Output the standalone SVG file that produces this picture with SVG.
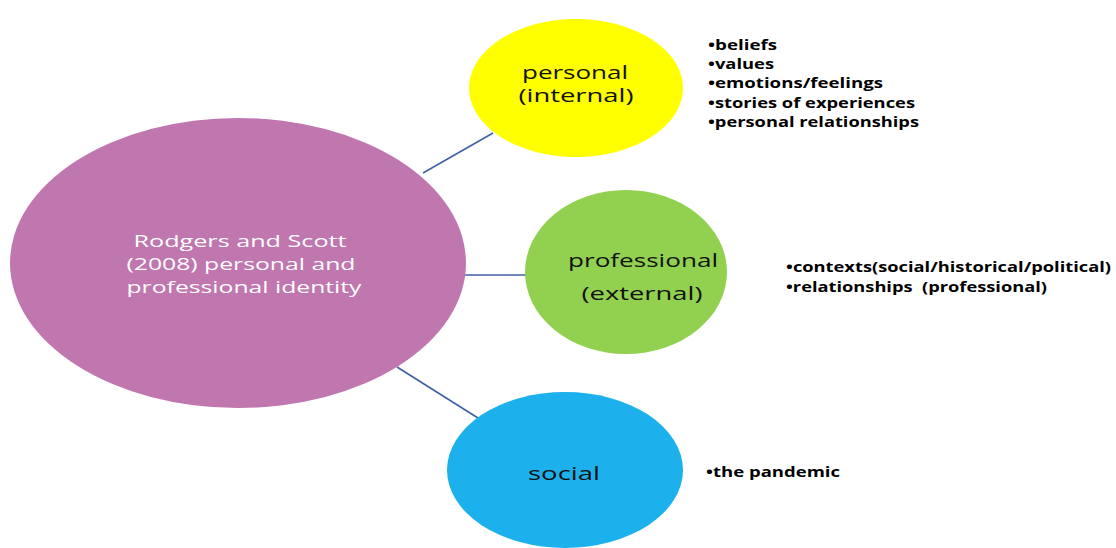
<svg xmlns="http://www.w3.org/2000/svg" width="1116" height="548" viewBox="0 0 1116 548">
<style>
.node{font-family:"Open Sans","Liberation Sans",sans-serif;text-anchor:middle}
.lbl{font-size:18.5px;fill:#111111}
.main{font-size:17px;fill:#ffffff}
.bul{font-family:"Open Sans","Liberation Sans",sans-serif;font-weight:bold;font-size:13.5px;fill:#000}
.conn{stroke:#3F5FA8;stroke-width:1.6;fill:none}
</style>
<rect width="1116" height="548" fill="#ffffff"/>
<g id="connectors">
<line class="conn" x1="423" y1="173" x2="493" y2="133"/>
<line class="conn" x1="464" y1="275" x2="527" y2="275"/>
<line class="conn" x1="397" y1="367" x2="478" y2="418"/>
</g>
<g id="center" class="node">
<ellipse cx="238" cy="263" rx="228" ry="145" fill="#C076AE"/>
<text class="main" x="240" y="247" textLength="213" lengthAdjust="spacingAndGlyphs">Rodgers and Scott</text>
<text class="main" x="241" y="270" textLength="229" lengthAdjust="spacingAndGlyphs">(2008) personal and</text>
<text class="main" x="244" y="293" textLength="235" lengthAdjust="spacingAndGlyphs">professional identity</text>
</g>
<g id="personal" class="node">
<ellipse cx="576" cy="88" rx="107" ry="69" fill="#FFFF00"/>
<text class="lbl" x="575" y="79" textLength="106" lengthAdjust="spacingAndGlyphs">personal</text>
<text class="lbl" x="576" y="102" textLength="115" lengthAdjust="spacingAndGlyphs">(internal)</text>
</g>
<g id="professional" class="node">
<ellipse cx="626" cy="272" rx="101" ry="82" fill="#92D050"/>
<text class="lbl" x="643" y="267" textLength="150" lengthAdjust="spacingAndGlyphs">professional</text>
<text class="lbl" x="642" y="300" textLength="121" lengthAdjust="spacingAndGlyphs">(external)</text>
</g>
<g id="social" class="node">
<ellipse cx="565" cy="470" rx="118" ry="78" fill="#1CB0EC"/>
<text class="lbl" x="564" y="480" textLength="72" lengthAdjust="spacingAndGlyphs">social</text>
</g>
<g id="personal-list">
<text class="bul" x="708" y="50" textLength="69" lengthAdjust="spacingAndGlyphs">•beliefs</text>
<text class="bul" x="708" y="69" textLength="66" lengthAdjust="spacingAndGlyphs">•values</text>
<text class="bul" x="708" y="88" textLength="175" lengthAdjust="spacingAndGlyphs">•emotions/feelings</text>
<text class="bul" x="708" y="108" textLength="207" lengthAdjust="spacingAndGlyphs">•stories of experiences</text>
<text class="bul" x="708" y="127" textLength="211" lengthAdjust="spacingAndGlyphs">•personal relationships</text>
</g>
<g id="professional-list">
<text class="bul" x="786" y="272" textLength="325" lengthAdjust="spacingAndGlyphs">•contexts(social/historical/political)</text>
<text class="bul" x="786" y="292" textLength="261" lengthAdjust="spacingAndGlyphs" xml:space="preserve">•relationships  (professional)</text>
</g>
<g id="social-list">
<text class="bul" x="706" y="477" textLength="134" lengthAdjust="spacingAndGlyphs">•the pandemic</text>
</g>
</svg>
